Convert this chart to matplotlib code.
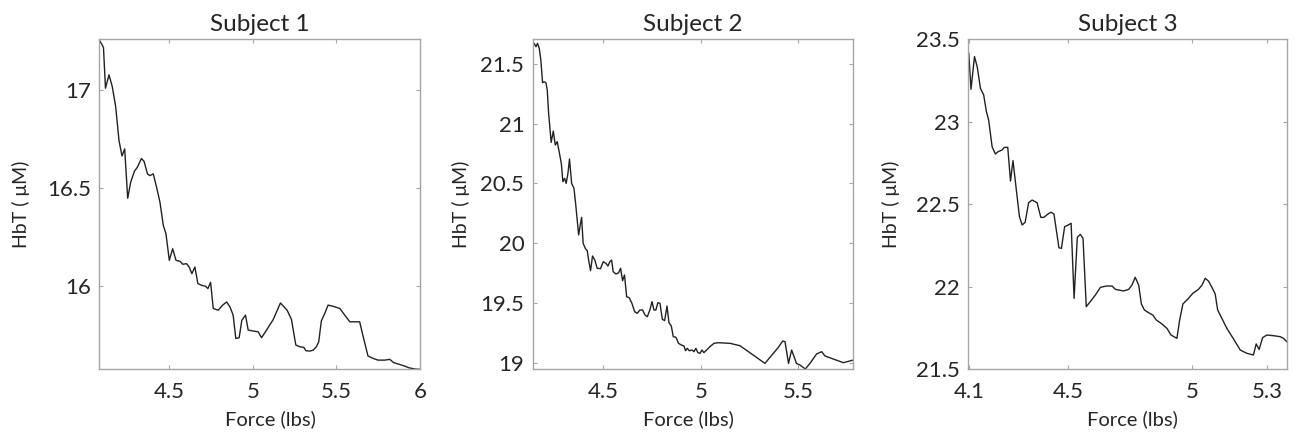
import matplotlib
matplotlib.use("Agg")
import matplotlib.pyplot as plt

plt.rcParams['font.family'] = ['Lato', 'DejaVu Sans']

# ---- data ----
titles = ["Subject 1", "Subject 2", "Subject 3"]

force_s1 = [4.082, 4.096, 4.106, 4.118, 4.139, 4.159, 4.179, 4.199, 4.217, 4.233,
            4.251, 4.269, 4.291, 4.309, 4.333, 4.349, 4.369, 4.384, 4.404, 4.424,
            4.444, 4.464, 4.480, 4.500, 4.520, 4.540, 4.564, 4.580, 4.603, 4.619,
            4.635, 4.653, 4.671, 4.693, 4.717, 4.731, 4.747, 4.763, 4.793, 4.819,
            4.843, 4.863, 4.882, 4.898, 4.918, 4.934, 4.956, 4.972, 5.002, 5.032,
            5.052, 5.082, 5.122, 5.165, 5.205, 5.231, 5.257, 5.281, 5.305, 5.317,
            5.341, 5.361, 5.380, 5.394, 5.410, 5.430, 5.450, 5.480, 5.520, 5.550,
            5.580, 5.610, 5.639, 5.663, 5.689, 5.719, 5.749, 5.789, 5.819, 5.843,
            5.878, 5.908, 5.934, 5.968, 5.998]
hbt_s1 = [17.252, 17.232, 17.215, 17.008, 17.076, 17.015, 16.914, 16.741, 16.663, 16.699,
          16.448, 16.530, 16.585, 16.606, 16.650, 16.636, 16.572, 16.563, 16.572, 16.504,
          16.428, 16.310, 16.267, 16.132, 16.191, 16.132, 16.127, 16.112, 16.115, 16.098,
          16.064, 16.098, 16.014, 16.005, 16.000, 15.988, 16.020, 15.887, 15.878, 15.904,
          15.920, 15.895, 15.853, 15.734, 15.738, 15.827, 15.853, 15.777, 15.772, 15.768,
          15.738, 15.777, 15.831, 15.915, 15.878, 15.831, 15.701, 15.692, 15.689, 15.672,
          15.670, 15.675, 15.692, 15.717, 15.824, 15.861, 15.904, 15.898, 15.887, 15.853,
          15.819, 15.819, 15.819, 15.734, 15.645, 15.633, 15.624, 15.624, 15.628, 15.611,
          15.602, 15.594, 15.585, 15.579, 15.577]

force_s2 = [4.138, 4.146, 4.155, 4.163, 4.172, 4.180, 4.189, 4.197, 4.206, 4.213,
            4.220, 4.226, 4.233, 4.244, 4.254, 4.264, 4.274, 4.285, 4.293, 4.302,
            4.310, 4.319, 4.327, 4.338, 4.350, 4.360, 4.374, 4.382, 4.389, 4.397,
            4.408, 4.418, 4.425, 4.435, 4.445, 4.457, 4.469, 4.486, 4.500, 4.514,
            4.524, 4.534, 4.543, 4.551, 4.565, 4.579, 4.589, 4.599, 4.609, 4.620,
            4.633, 4.647, 4.661, 4.674, 4.688, 4.702, 4.714, 4.726, 4.739, 4.750,
            4.760, 4.770, 4.780, 4.791, 4.803, 4.815, 4.827, 4.837, 4.849, 4.859,
            4.873, 4.886, 4.900, 4.914, 4.922, 4.931, 4.941, 4.955, 4.965, 4.975,
            4.985, 4.996, 5.006, 5.016, 5.030, 5.047, 5.068, 5.090, 5.150, 5.201,
            5.261, 5.329, 5.372, 5.397, 5.420, 5.432, 5.450, 5.466, 5.491, 5.509,
            5.536, 5.560, 5.594, 5.620, 5.637, 5.679, 5.731, 5.782]
hbt_s2 = [21.645, 21.673, 21.645, 21.673, 21.631, 21.534, 21.344, 21.352, 21.344, 21.282,
          21.087, 20.975, 20.844, 20.939, 20.822, 20.850, 20.766, 20.669, 20.515, 20.543,
          20.501, 20.585, 20.705, 20.501, 20.459, 20.306, 20.069, 20.152, 20.217, 19.999,
          19.957, 19.937, 19.859, 19.770, 19.893, 19.859, 19.790, 19.787, 19.845, 19.831,
          19.809, 19.845, 19.859, 19.762, 19.742, 19.753, 19.790, 19.686, 19.734, 19.552,
          19.544, 19.497, 19.427, 19.413, 19.441, 19.441, 19.399, 19.385, 19.441, 19.511,
          19.441, 19.441, 19.502, 19.497, 19.363, 19.352, 19.474, 19.335, 19.307, 19.218,
          19.212, 19.162, 19.148, 19.140, 19.100, 19.120, 19.100, 19.106, 19.092, 19.120,
          19.084, 19.078, 19.106, 19.084, 19.106, 19.134, 19.162, 19.167, 19.162, 19.142,
          19.073, 18.994, 19.078, 19.126, 19.181, 19.176, 18.994, 19.106, 18.994, 18.980,
          18.947, 18.994, 19.073, 19.092, 19.056, 19.031, 19.000, 19.022]

force_s3 = [4.100, 4.109, 4.123, 4.134, 4.147, 4.160, 4.171, 4.180, 4.194, 4.207,
            4.218, 4.234, 4.243, 4.257, 4.268, 4.278, 4.290, 4.304, 4.315, 4.327,
            4.341, 4.355, 4.375, 4.390, 4.402, 4.422, 4.431, 4.443, 4.463, 4.473,
            4.486, 4.498, 4.512, 4.524, 4.537, 4.549, 4.560, 4.573, 4.589, 4.610,
            4.630, 4.654, 4.677, 4.690, 4.703, 4.723, 4.744, 4.757, 4.770, 4.784,
            4.795, 4.807, 4.824, 4.841, 4.855, 4.878, 4.898, 4.914, 4.938, 4.949,
            4.962, 4.982, 5.002, 5.025, 5.039, 5.052, 5.065, 5.079, 5.092, 5.102,
            5.119, 5.139, 5.166, 5.193, 5.220, 5.246, 5.257, 5.269, 5.283, 5.300,
            5.327, 5.354, 5.367, 5.380]
hbt_s3 = [23.415, 23.197, 23.395, 23.334, 23.203, 23.163, 23.062, 23.011, 22.849, 22.805,
          22.819, 22.829, 22.845, 22.845, 22.641, 22.765, 22.607, 22.425, 22.375, 22.391,
          22.510, 22.526, 22.510, 22.421, 22.421, 22.445, 22.452, 22.441, 22.237, 22.233,
          22.365, 22.373, 22.385, 21.930, 22.300, 22.318, 22.294, 21.880, 21.910, 21.951,
          21.997, 22.005, 22.005, 21.985, 21.981, 21.975, 21.985, 22.011, 22.058, 22.011,
          21.896, 21.860, 21.843, 21.829, 21.799, 21.775, 21.748, 21.708, 21.688, 21.799,
          21.896, 21.926, 21.961, 21.985, 22.011, 22.052, 22.035, 21.997, 21.957, 21.860,
          21.809, 21.748, 21.684, 21.617, 21.597, 21.587, 21.654, 21.621, 21.692, 21.708,
          21.704, 21.698, 21.688, 21.668]

xticks_all = [[4.5, 5, 5.5, 6], [4.5, 5, 5.5], [4.1, 4.5, 5, 5.3]]
xticklabels_all = [["4.5", "5", "5.5", "6"], ["4.5", "5", "5.5"], ["4.1", "4.5", "5", "5.3"]]
yticks_all = [[16, 16.5, 17], [19, 19.5, 20, 20.5, 21, 21.5], [21.5, 22, 22.5, 23, 23.5]]
yticklabels_all = [["16", "16.5", "17"], ["19", "19.5", "20", "20.5", "21", "21.5"],
                   ["21.5", "22", "22.5", "23", "23.5"]]
xlims = [(4.082, 6.0), (4.138, 5.782), (4.098, 5.380)]
ylims = [(15.577, 17.259), (18.944, 21.707), (21.5, 23.5)]

xs = [force_s1, force_s2, force_s3]
ys = [hbt_s1, hbt_s2, hbt_s3]

fig = plt.figure(figsize=(12.95, 4.32), dpi=100)
positions = [[0.0768, 0.145, 0.2475, 0.765],
             [0.4113, 0.145, 0.2476, 0.764],
             [0.7477, 0.145, 0.2459, 0.764]]
ylabel_x = [-0.217, -0.196, -0.2145]
xlabel_x = [0.532, 0.485, 0.515]

spine_col = "#a6a6a6"
text_col = "#262626"

for i in range(3):
    ax = fig.add_axes(positions[i])
    ax.plot(xs[i], ys[i], color="#222222", linewidth=1.0)
    ax.set_xlim(*xlims[i])
    ax.set_ylim(*ylims[i])
    ax.set_xticks(xticks_all[i])
    ax.set_xticklabels(xticklabels_all[i])
    ax.set_yticks(yticks_all[i])
    ax.set_yticklabels(yticklabels_all[i])
    for s in ax.spines.values():
        s.set_color(spine_col)
        s.set_linewidth(1.0)
    ax.tick_params(direction="in", length=3, width=0.8, color=spine_col,
                   top=True, right=True, labelsize=16, labelcolor=text_col)
    ax.tick_params(axis="x", pad=9)
    ax.tick_params(axis="y", pad=6)
    ax.set_title(titles[i], fontsize=17.5, color=text_col, pad=6)
    ax.set_xlabel("Force (lbs)", fontsize=14.5, color=text_col)
    ax.set_ylabel("HbT ( \u03bcM)", fontsize=14, color=text_col)
    ax.yaxis.set_label_coords(ylabel_x[i], 0.5)
    ax.xaxis.set_label_coords(xlabel_x[i], -0.125)

fig.savefig("out.png", dpi=100)
